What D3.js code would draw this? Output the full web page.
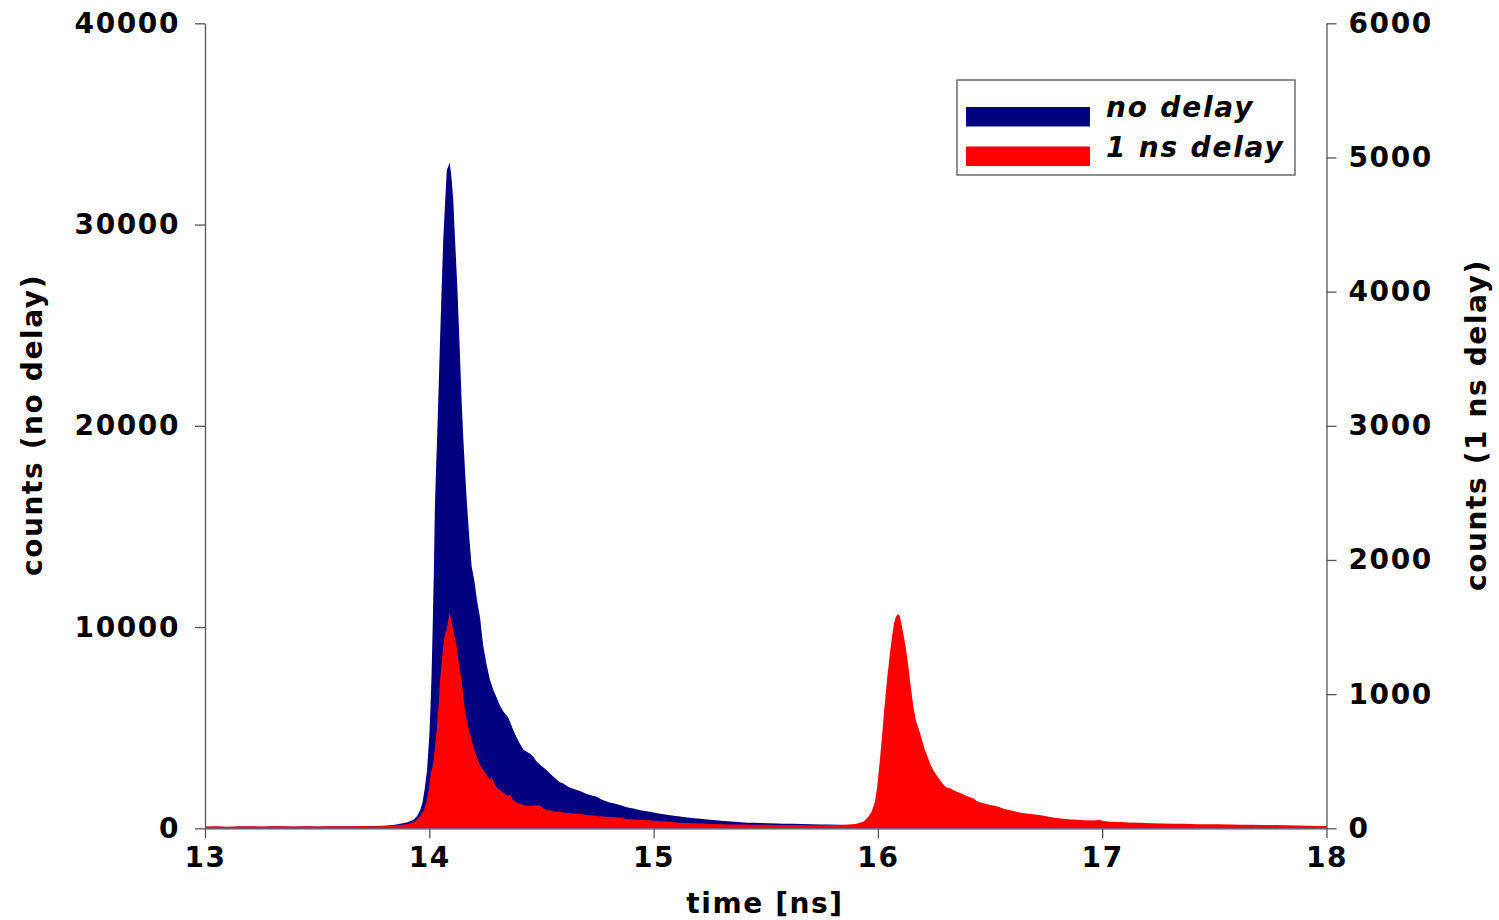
<!DOCTYPE html>
<html>
<head>
<meta charset="utf-8">
<script src="https://cdn.jsdelivr.net/npm/d3@7"></script>
<style>
  body { margin: 0; background: #fff; }
  svg text { font-family: "DejaVu Sans", sans-serif; font-weight: bold; fill: #000; }
</style>
</head>
<body>
<div id="chart"></div>
<script>
// time bins [ns] and counts
let timeNoDelay = [13.00, 13.05, 13.10, 13.15, 13.20, 13.25, 13.30, 13.35, 13.40, 13.45, 13.50, 13.55, 13.60, 13.65, 13.70, 13.75, 13.80, 13.84, 13.87, 13.90,
    13.92, 13.93, 13.945, 13.96, 13.97, 13.98, 13.99, 14.00, 14.005, 14.01, 14.015, 14.02, 14.025, 14.03, 14.036, 14.042, 14.048, 14.055, 14.062, 14.07,
    14.078, 14.085, 14.09, 14.094, 14.10, 14.107, 14.115, 14.125, 14.134, 14.144, 14.152, 14.16, 14.167, 14.178, 14.189, 14.201, 14.213, 14.226, 14.24, 14.256,
    14.27, 14.285, 14.30, 14.315, 14.33, 14.352, 14.374, 14.39, 14.404, 14.42, 14.435, 14.449, 14.464, 14.48, 14.50, 14.523, 14.54, 14.56, 14.58, 14.597,
    14.62, 14.645, 14.672, 14.70, 14.72, 14.746, 14.77, 14.80, 14.82, 14.85, 14.88, 14.91, 14.94, 14.969, 15.00, 15.03, 15.06, 15.09, 15.118, 15.15,
    15.18, 15.21, 15.24, 15.266, 15.30, 15.33, 15.36, 15.39, 15.415, 15.45, 15.48, 15.51, 15.55, 15.58, 15.62, 15.66, 15.70, 15.74, 15.78, 15.82,
    15.86, 15.90, 15.95, 16.00, 16.20, 16.50, 17.00, 17.50, 18.00]
let countsNoDelay = [70, 80, 65, 85, 75, 70, 90, 80, 75, 85, 80, 95, 90, 85, 100, 110, 130, 170, 220, 290,
    370, 420, 600, 920, 1300, 2000, 2900, 4600, 5900, 7600, 10000, 12600, 16000, 17800, 19800, 22000, 24300, 26800, 29200, 31000,
    32700, 32900, 33100, 32800, 32200, 31200, 29200, 26900, 24300, 21300, 19300, 17600, 16300, 14500, 13000, 12300, 11300, 10500, 9100, 8100,
    7400, 6900, 6500, 6100, 5800, 5500, 4900, 4500, 4200, 3900, 3800, 3700, 3550, 3300, 3100, 2900, 2700, 2500, 2300, 2230,
    2050, 1950, 1850, 1720, 1640, 1570, 1420, 1300, 1240, 1160, 1050, 980, 900, 850, 780, 720, 670, 620, 590, 540,
    500, 470, 440, 410, 380, 350, 320, 300, 280, 270, 260, 250, 240, 230, 220, 210, 200, 190, 190, 180,
    170, 160, 160, 150, 140, 130, 120, 110, 100]

let timeDelay = [13.00, 13.05, 13.10, 13.15, 13.20, 13.25, 13.30, 13.35, 13.40, 13.45, 13.50, 13.55, 13.60, 13.65, 13.70, 13.75, 13.80, 13.85, 13.90, 13.935,
    13.957, 13.972, 13.981, 13.987, 13.997, 14.006, 14.018, 14.025, 14.033, 14.041, 14.048, 14.055, 14.062, 14.07, 14.078, 14.085, 14.092, 14.098, 14.104, 14.11,
    14.118, 14.126, 14.134, 14.144, 14.152, 14.159, 14.167, 14.178, 14.189, 14.20, 14.211, 14.226, 14.241, 14.256, 14.27, 14.278, 14.285, 14.30, 14.315, 14.33,
    14.35, 14.36, 14.374, 14.39, 14.41, 14.43, 14.449, 14.47, 14.494, 14.51, 14.523, 14.55, 14.58, 14.61, 14.64, 14.672, 14.70, 14.73, 14.76, 14.79,
    14.82, 14.85, 14.88, 14.91, 14.95, 14.99, 15.03, 15.06, 15.10, 15.14, 15.18, 15.22, 15.26, 15.30, 15.35, 15.40, 15.45, 15.50, 15.55, 15.60,
    15.65, 15.70, 15.75, 15.80, 15.85, 15.90, 15.935, 15.957, 15.972, 15.987, 15.997, 16.006, 16.017, 16.028, 16.042, 16.057, 16.065, 16.072, 16.08, 16.086,
    16.091, 16.097, 16.104, 16.113, 16.122, 16.13, 16.136, 16.147, 16.158, 16.17, 16.178, 16.188, 16.20, 16.21, 16.22, 16.232, 16.245, 16.26,
    16.277, 16.29, 16.305, 16.32, 16.336, 16.35, 16.37, 16.39, 16.41, 16.425, 16.44, 16.46, 16.48, 16.50, 16.52, 16.54, 16.555, 16.574, 16.60, 16.63,
    16.66, 16.69, 16.72, 16.75, 16.78, 16.80, 16.83, 16.86, 16.89, 16.92, 16.95, 16.99, 17.01, 17.04, 17.08, 17.12, 17.17, 17.22, 17.27, 17.32,
    17.37, 17.42, 17.47, 17.52, 17.57, 17.62, 17.67, 17.72, 17.77, 17.82, 17.87, 17.92, 17.96, 18.00]
let countsDelay = [14, 15, 12, 14, 16, 13, 15, 16, 13, 15, 14, 16, 15, 16, 17, 16, 18, 22, 30, 49,
    86, 124, 161, 198, 280, 400, 484, 600, 732, 900, 1105, 1230, 1353, 1450, 1478, 1560, 1610, 1540, 1500, 1440,
    1400, 1300, 1200, 1105, 981, 880, 805, 720, 656, 590, 534, 472, 435, 400, 360, 385, 350, 305, 285, 265,
    240, 248, 211, 190, 180, 170, 165, 172, 170, 145, 136, 128, 120, 115, 110, 108, 100, 95, 90, 86,
    84, 78, 70, 66, 62, 58, 52, 48, 44, 40, 38, 35, 32, 31, 29, 28, 27, 26, 25, 25,
    24, 23, 23, 24, 26, 32, 49, 86, 124, 198, 310, 459, 658, 880, 1130, 1353, 1450, 1528, 1575, 1590,
    1597, 1585, 1530, 1453, 1370, 1280, 1204, 1050, 906, 800, 760, 708, 640, 580, 540, 484, 440, 400,
    360, 330, 305, 300, 285, 275, 262, 245, 232, 224, 205, 190, 183, 174, 168, 158, 150, 140, 130, 118,
    110, 104, 99, 90, 80, 75, 72, 66, 64, 60, 58, 62, 52, 48, 47, 44, 42, 38, 36, 34,
    33, 31, 30, 30, 28, 27, 26, 25, 25, 22, 20, 19, 18, 17]

let xTicks = [13, 14, 15, 16, 17, 18]
let leftTicks = [0, 10000, 20000, 30000, 40000]
let rightTicks = [0, 1000, 2000, 3000, 4000, 5000, 6000]
let legendLabels = ["no delay", "1 ns delay"]
let seriesColors = ["#000080", "#ff0000"]

let W = 1499, H = 920
let svg = d3.select("#chart").append("svg").attr("width", W).attr("height", H)

let x = d3.scaleLinear().domain([13, 18]).range([205, 1326.5])
let yLeft = d3.scaleLinear().domain([0, 40000]).range([828.3, 23.3])
let yRight = d3.scaleLinear().domain([0, 6000]).range([828.3, 23.3])

// filled histograms: no delay on the left axis, 1 ns delay on the right axis
let blueData = timeNoDelay.map((t, i) => [t, countsNoDelay[i]])
let redData = timeDelay.map((t, i) => [t, countsDelay[i]])

svg.append("path").datum(blueData)
    .attr("fill", seriesColors[0])
    .attr("d", d3.area().x(d => x(d[0])).y0(yLeft(0)).y1(d => yLeft(d[1])))
svg.append("path").datum(redData)
    .attr("fill", seriesColors[1])
    .attr("d", d3.area().x(d => x(d[0])).y0(yRight(0)).y1(d => yRight(d[1])))

// axes
let axisColor = "#555"
function styleAxis(g) {
    g.selectAll("path, line").attr("stroke", axisColor).attr("stroke-width", 1.3)
    g.selectAll("text").style("font-size", "28px").style("letter-spacing", "1.6px").attr("fill", "#000")
}

svg.append("g").attr("transform", `translate(0, ${yLeft(0)})`)
    .call(d3.axisBottom(x).tickValues(xTicks).tickFormat(d3.format("d")).tickSize(10).tickSizeOuter(0).tickPadding(9))
    .call(styleAxis)
svg.append("g").attr("transform", `translate(${x(13)}, 0)`)
    .call(d3.axisLeft(yLeft).tickValues(leftTicks).tickFormat(d3.format("d")).tickSize(10).tickSizeOuter(0).tickPadding(15))
    .call(styleAxis)
svg.append("g").attr("transform", `translate(${x(18)}, 0)`)
    .call(d3.axisRight(yRight).tickValues(rightTicks).tickFormat(d3.format("d")).tickSize(10).tickSizeOuter(0).tickPadding(12))
    .call(styleAxis)

// axis titles
svg.append("text").attr("x", 765).attr("y", 913).attr("text-anchor", "middle")
    .style("font-size", "28px").style("letter-spacing", "1.6px").text("time [ns]")
svg.append("text").attr("transform", "translate(42, 425) rotate(-90)").attr("text-anchor", "middle")
    .style("font-size", "28px").style("letter-spacing", "1.6px").text("counts (no delay)")
svg.append("text").attr("transform", "translate(1486, 425) rotate(-90)").attr("text-anchor", "middle")
    .style("font-size", "28px").style("letter-spacing", "1.6px").text("counts (1 ns delay)")

// legend
let legend = svg.append("g")
legend.append("rect").attr("x", 957).attr("y", 80).attr("width", 338).attr("height", 95)
    .attr("fill", "#fff").attr("stroke", axisColor).attr("stroke-width", 1.3)
legendLabels.forEach((label, i) => {
    legend.append("rect").attr("x", 966).attr("y", 107 + i * 39.5).attr("width", 124).attr("height", 19.5)
        .attr("fill", seriesColors[i])
    legend.append("text").attr("x", 1106).attr("y", 117 + i * 40)
        .style("font-size", "28px").style("font-style", "italic").style("letter-spacing", "1.8px")
        .text(label)
})
</script>
</body>
</html>
